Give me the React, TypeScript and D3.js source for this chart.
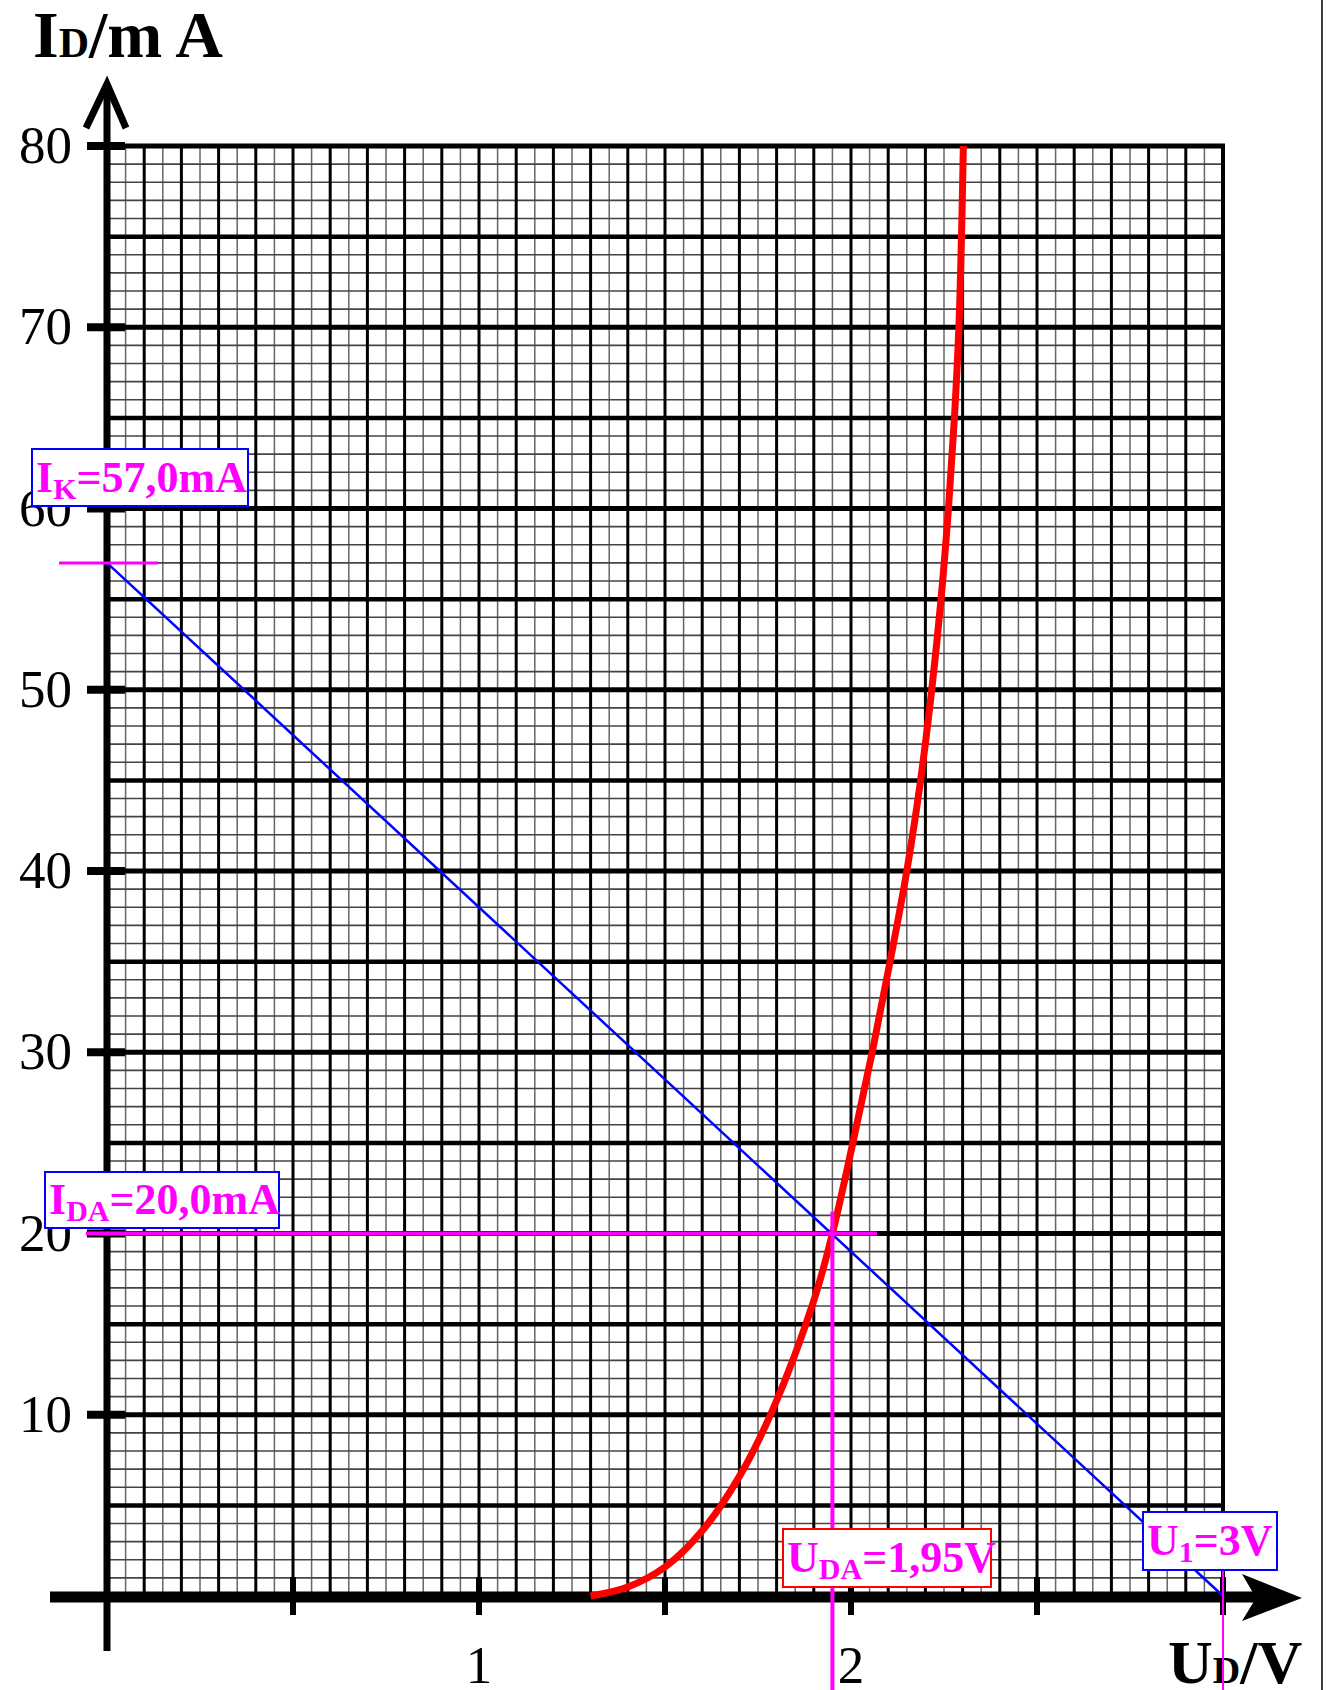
import React from "react";
import * as d3 from "d3";

// diode characteristic I_D(U_D)
const diodeU = [1.3, 1.4, 1.5, 1.6, 1.7, 1.79, 1.9, 1.95, 2.005, 2.057, 2.105, 2.15, 2.187, 2.217, 2.242, 2.262, 2.278, 2.29, 2.297, 2.302];
const diodeI = [0, 0.5, 1.6, 3.6, 6.6, 10.3, 16.3, 20, 25, 30, 35, 40, 45, 50, 55, 60, 65, 70, 75, 80];

// load line from U1=3V to IK=57mA
const loadU = [0, 3];
const loadI = [57, 0];

const opU = 1.95;
const opI = 20;

const yTickLabels = [10, 20, 30, 40, 50, 60, 70, 80];
const xTickLabels = [1, 2];
const xTickMarks = [0.5, 1, 1.5, 2, 2.5, 3];

const W = 1332;
const H = 1690;

const x = d3.scaleLinear().domain([0, 3]).range([107, 1223]);
const y = d3.scaleLinear().domain([0, 80]).range([1596, 146]);

const MAGENTA = "#ff00ff";
const SERIF = "'Liberation Serif', 'Times New Roman', serif";

const App = () => {
  const minorV = d3.range(0, 61).map(i => i * 0.05).filter((_, i) => i % 2 === 1);
  const majorV = d3.range(1, 30).map(i => i * 0.1);
  const minorH = d3.range(1, 80).filter(v => v % 5 !== 0);
  const majorH = d3.range(5, 80, 5);

  const curve = d3.line<number>()
    .x((_, i) => x(diodeU[i]))
    .y(d => y(d))
    .curve(d3.curveCatmullRom.alpha(0.5));

  const load = d3.line<number>()
    .x((_, i) => x(loadU[i]))
    .y(d => y(d));

  const x0 = x(0), x3 = x(3), y0 = y(0), y80 = y(80);

  return (
    <div style={{ position: "absolute", left: 0, top: 0 }}>
      <svg width={W} height={H} style={{ display: "block", background: "#fff" }}>
        <rect width={W} height={H} fill="#fff" />

        {/* minor grid */}
        {minorV.map(v => (
          <line key={"mv" + v} x1={x(v)} x2={x(v)} y1={y80} y2={y0} stroke="#666" strokeWidth={1.5} />
        ))}
        {minorH.map(v => (
          <line key={"mh" + v} x1={x0} x2={x3} y1={y(v)} y2={y(v)} stroke="#444" strokeWidth={1.6} />
        ))}
        {/* major grid */}
        {majorV.map(v => (
          <line key={"Mv" + v} x1={x(v)} x2={x(v)} y1={y80} y2={y0} stroke="#000" strokeWidth={3} />
        ))}
        {majorH.map(v => (
          <line key={"Mh" + v} x1={x0} x2={x3} y1={y(v)} y2={y(v)} stroke="#000" strokeWidth={v % 10 === 0 ? 5 : 4.5} />
        ))}
        {/* frame top and right */}
        <line x1={x0} x2={x3 + 2} y1={y80} y2={y80} stroke="#000" strokeWidth={5} />
        <line x1={x3} x2={x3} y1={y80} y2={y0} stroke="#000" strokeWidth={4} />

        {/* y axis */}
        <line x1={x0} x2={x0} y1={84} y2={1651} stroke="#000" strokeWidth={7} />
        <polyline points={`${x0 - 21},128 ${x0},84 ${x0 + 19},128`} fill="none" stroke="#000" strokeWidth={7} />
        {yTickLabels.map(v => (
          <line key={"yt" + v} x1={x0 - 20} x2={x0 + 18} y1={y(v)} y2={y(v)} stroke="#000" strokeWidth={8} />
        ))}

        {/* x axis */}
        <line x1={50} x2={1258} y1={1597} y2={1597} stroke="#000" strokeWidth={11} />
        <path d="M1242,1574 L1302,1598 L1242,1621 L1256,1598 Z" fill="#000" />
        {xTickMarks.map(v => (
          <line key={"xt" + v} x1={x(v)} x2={x(v)} y1={1577} y2={1615} stroke="#000" strokeWidth={6} />
        ))}

        {/* tick labels */}
        {yTickLabels.map(v => (
          <text key={"yl" + v} x={72} y={y(v) + 17} textAnchor="end" fontFamily={SERIF} fontSize={53} fill="#000">{v}</text>
        ))}
        {xTickLabels.map(v => (
          <text key={"xl" + v} x={x(v)} y={1683} textAnchor="middle" fontFamily={SERIF} fontSize={53} fill="#000">{v}</text>
        ))}

        {/* axis titles */}
        <text x={33} y={57} fontFamily={SERIF} fontWeight="bold" fill="#000">
          <tspan fontSize={66}>I</tspan>
          <tspan fontSize={42}>D</tspan>
          <tspan fontSize={66}>/m A</tspan>
        </text>
        <text x={1168} y={1683} fontFamily={SERIF} fontWeight="bold" fill="#000">
          <tspan fontSize={62}>U</tspan>
          <tspan fontSize={38}>D</tspan>
          <tspan fontSize={62}>/V</tspan>
        </text>

        {/* diode curve */}
        <path d={curve(diodeI) || ""} fill="none" stroke="#ff0000" strokeWidth={7} />

        {/* load line */}
        <path d={load(loadI) || ""} fill="none" stroke="#0000ff" strokeWidth={2.5} />

        {/* construction lines */}
        <line x1={x0 - 48} x2={x0 + 51} y1={y(loadI[0])} y2={y(loadI[0])} stroke={MAGENTA} strokeWidth={3} />
        <line x1={x0 - 21} x2={x(2.07)} y1={y(opI)} y2={y(opI)} stroke={MAGENTA} strokeWidth={4} />
        <line x1={x(opU)} x2={x(opU)} y1={y(opI + 1.2)} y2={H} stroke={MAGENTA} strokeWidth={4} />
        <line x1={x(loadU[1])} x2={x(loadU[1])} y1={1570} y2={H} stroke={MAGENTA} strokeWidth={2} />

        {/* right frame line */}
        <line x1={1322} x2={1322} y1={0} y2={H} stroke="#000" strokeWidth={1.5} />

        {/* annotation boxes */}
        <rect x={32} y={449} width={216} height={57} fill="#fff" stroke="#0000ff" strokeWidth={2} />
        <text x={36} y={492} fontFamily={SERIF} fontWeight="bold" fill={MAGENTA}>
          <tspan fontSize={44}>I</tspan>
          <tspan fontSize={30} dy={7}>K</tspan>
          <tspan fontSize={44} dy={-7}>=57,0mA</tspan>
        </text>

        <rect x={45} y={1172} width={234} height={56} fill="#fff" stroke="#0000ff" strokeWidth={2} />
        <text x={49} y={1214} fontFamily={SERIF} fontWeight="bold" fill={MAGENTA}>
          <tspan fontSize={44}>I</tspan>
          <tspan fontSize={30} dy={7}>DA</tspan>
          <tspan fontSize={44} dy={-7}>=20,0mA</tspan>
        </text>

        <rect x={783} y={1529} width={208} height={58} fill="#fff" stroke="#ff0000" strokeWidth={2} />
        <text x={787} y={1572} fontFamily={SERIF} fontWeight="bold" fill={MAGENTA}>
          <tspan fontSize={44}>U</tspan>
          <tspan fontSize={30} dy={7}>DA</tspan>
          <tspan fontSize={44} dy={-7}>=1,95V</tspan>
        </text>

        <rect x={1143} y={1512} width={134} height={58} fill="#fff" stroke="#0000ff" strokeWidth={2} />
        <text x={1147} y={1555} fontFamily={SERIF} fontWeight="bold" fill={MAGENTA}>
          <tspan fontSize={44}>U</tspan>
          <tspan fontSize={30} dy={7}>1</tspan>
          <tspan fontSize={44} dy={-7}>=3V</tspan>
        </text>
      </svg>
    </div>
  );
};

export default App;
